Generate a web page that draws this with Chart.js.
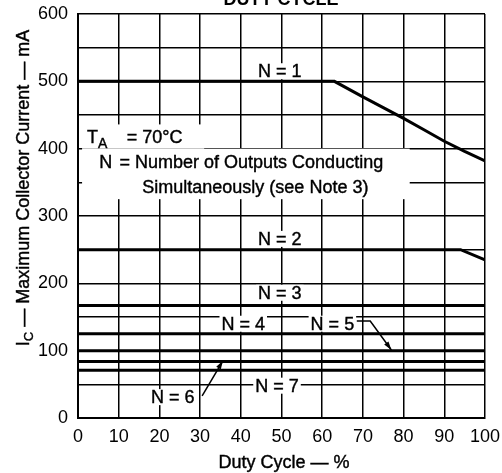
<!DOCTYPE html>
<html>
<head>
<meta charset="utf-8">
<script src="https://cdn.jsdelivr.net/npm/chart.js@4.4.0/dist/chart.umd.min.js"></script>
<style>
  body { margin: 0; background: #fff; }
  #wrap { width: 502px; height: 473px; }
</style>
</head>
<body>
<div id="wrap"><canvas id="mycanvas" width="502" height="473"></canvas></div>
<script>
// max collector current (mA) vs duty cycle (%), TA = 70°C
var n1Duty = [0, 63, 70, 75, 80, 85, 90, 95, 100];
var n1Current = [500, 500, 477, 461, 445, 428, 411, 396, 382];
var n2Duty = [0, 94, 100];
var n2Current = [250, 250, 235];
var flatDuty = [0, 100];
var n3Current = [167, 167];
var n4Current = [125, 125];
var n5Current = [100, 100];
var n6Current = [84, 84];
var n7Current = [71, 71];

var xTickLabels = [0, 10, 20, 30, 40, 50, 60, 70, 80, 90, 100];
var yTickLabels = [0, 100, 200, 300, 400, 500, 600];

var FONT = '"Liberation Sans", Arial, Helvetica, sans-serif';

function pts(xs, ys) {
  return xs.map(function(v, i){ return {x: v, y: ys[i]}; });
}

function curve(xs, ys) {
  return {
    data: pts(xs, ys),
    borderColor: '#000',
    borderWidth: 3,
    pointRadius: 0,
    fill: false,
    tension: 0
  };
}

// label text with white box (hides grid behind), anchored in data units
var curveLabels = [
  {text: 'N = 1', x: 49.6, y: 515},
  {text: 'N = 2', x: 49.6, y: 266},
  {text: 'N = 3', x: 49.6, y: 186},
  {text: 'N = 4', x: 40.6, y: 140},
  {text: 'N = 5', x: 62.5, y: 140},
  {text: 'N = 6', x: 23.3, y: 31},
  {text: 'N = 7', x: 48.9, y: 48}
];

function arrow(ctx, pts) {
  ctx.beginPath();
  ctx.moveTo(pts[0][0], pts[0][1]);
  for (var i = 1; i < pts.length; i++) ctx.lineTo(pts[i][0], pts[i][1]);
  ctx.stroke();
  var a = pts[pts.length - 2], b = pts[pts.length - 1];
  var ang = Math.atan2(b[1] - a[1], b[0] - a[0]);
  ctx.beginPath();
  ctx.moveTo(b[0], b[1]);
  ctx.lineTo(b[0] - 9 * Math.cos(ang - 0.3), b[1] - 9 * Math.sin(ang - 0.3));
  ctx.lineTo(b[0] - 9 * Math.cos(ang + 0.3), b[1] - 9 * Math.sin(ang + 0.3));
  ctx.closePath();
  ctx.fill();
}

function heavyText(ctx, s, x, y) {
  ctx.fillText(s, x, y);
  ctx.strokeText(s, x, y);
}

var notes = {
  id: 'notes',
  beforeDatasetsDraw: function(chart) {
    var ctx = chart.ctx, xs = chart.scales.x, ys = chart.scales.y;
    var px = function(v){ return xs.getPixelForValue(v); };
    var py = function(v){ return ys.getPixelForValue(v); };
    ctx.save();
    ctx.fillStyle = '#fff';
    // blank area behind the condition note
    ctx.fillRect(px(1), py(436), px(31) - px(1), py(400) - py(436));
    ctx.fillRect(px(1), py(400), px(81.5) - px(1), py(325) - py(400));

    ctx.strokeStyle = '#000';
    ctx.lineWidth = 0.4;
    ctx.font = '18px ' + FONT;
    ctx.textBaseline = 'middle';
    ctx.textAlign = 'center';
    curveLabels.forEach(function(l){
      var w = ctx.measureText(l.text).width;
      ctx.fillStyle = '#fff';
      ctx.fillRect(px(l.x) - w / 2 - 2, py(l.y) - 8, w + 4, 16);
      ctx.fillStyle = '#000';
      heavyText(ctx, l.text, px(l.x), py(l.y) + 1);
    });

    // condition note
    ctx.textAlign = 'left';
    ctx.textBaseline = 'alphabetic';
    ctx.fillStyle = '#000';
    heavyText(ctx, 'T', px(2.2), py(408));
    ctx.font = '14px ' + FONT;
    heavyText(ctx, 'A', px(2.2) + 11, py(408) + 5);
    ctx.font = '18px ' + FONT;
    heavyText(ctx, '= 70\u00B0C', px(12), py(408));
    heavyText(ctx, 'N', px(5.2), py(372));
    heavyText(ctx, '= Number of Outputs Conducting', px(10.2), py(372));
    heavyText(ctx, 'Simultaneously (see Note 3)', px(15.8), py(334));

    // pointer arrows
    ctx.lineWidth = 1.5;
    arrow(ctx, [[px(68.5), py(144)], [px(71.8), py(144)], [px(77), py(101)]]);
    arrow(ctx, [[px(30.5), py(33)], [px(35.6), py(85)]]);
    ctx.restore();
  },
  afterDraw: function(chart) {
    var ctx = chart.ctx;
    ctx.save();
    ctx.fillStyle = '#000';
    ctx.strokeStyle = '#000';
    ctx.lineWidth = 0.4;
    // title, cut off at the top edge
    ctx.font = 'bold 18px ' + FONT;
    ctx.textAlign = 'center';
    ctx.textBaseline = 'alphabetic';
    ctx.fillText('DUTY CYCLE', 281, 5);

    ctx.font = '18px ' + FONT;
    heavyText(ctx, 'Duty Cycle \u2014 %', 284, 468);

    // y title with subscript
    ctx.translate(29, 188);
    ctx.rotate(-Math.PI / 2);
    var rest = ' \u2014 Maximum Collector Current \u2014 mA';
    ctx.font = '18px ' + FONT;
    var wI = ctx.measureText('I').width, wR = ctx.measureText(rest).width;
    ctx.font = '13px ' + FONT;
    var wC = ctx.measureText('C').width;
    var x0 = -(wI + wC + wR) / 2;
    ctx.textAlign = 'left';
    ctx.font = '18px ' + FONT;
    heavyText(ctx, 'I', x0, 0);
    ctx.font = '13px ' + FONT;
    heavyText(ctx, 'C', x0 + wI, 4);
    ctx.font = '18px ' + FONT;
    heavyText(ctx, rest, x0 + wI + wC, 0);
    ctx.restore();
  }
};

var ctx = document.getElementById('mycanvas');
var chart = new Chart(ctx, {
  type: 'line',
  data: {
    datasets: [
      curve(n1Duty, n1Current),
      curve(n2Duty, n2Current),
      curve(flatDuty, n3Current),
      curve(flatDuty, n4Current),
      curve(flatDuty, n5Current),
      curve(flatDuty, n6Current),
      curve(flatDuty, n7Current)
    ]
  },
  options: {
    responsive: false,
    animation: false,
    layout: {padding: {left: 0, right: 17, top: 14, bottom: 0}},
    plugins: {legend: {display: false}, tooltip: {enabled: false}},
    scales: {
      x: {
        type: 'linear',
        min: 0, max: 100,
        afterFit: function(s){ s.height = 55; s.paddingLeft = 0; s.paddingRight = 0; },
        afterBuildTicks: function(s){ s.ticks = xTickLabels.map(function(v){ return {value: v}; }); },
        ticks: {color: '#000', padding: 8, font: {family: FONT, size: 18}, maxRotation: 0, autoSkip: false},
        grid: {color: '#000', lineWidth: 1.5, drawTicks: false},
        border: {color: '#000', width: 2}
      },
      y: {
        min: 0, max: 600,
        afterFit: function(s){ s.width = 78; s.paddingTop = 0; s.paddingBottom = 0; },
        ticks: {
          stepSize: 50, autoSkip: false, color: '#000', padding: 10,
          font: {family: FONT, size: 18},
          callback: function(v){ return yTickLabels.indexOf(v) >= 0 ? String(v) : ''; }
        },
        grid: {color: '#000', lineWidth: 1.5, drawTicks: false},
        border: {color: '#000', width: 2}
      }
    }
  },
  plugins: [notes]
});
</script>
</body>
</html>
